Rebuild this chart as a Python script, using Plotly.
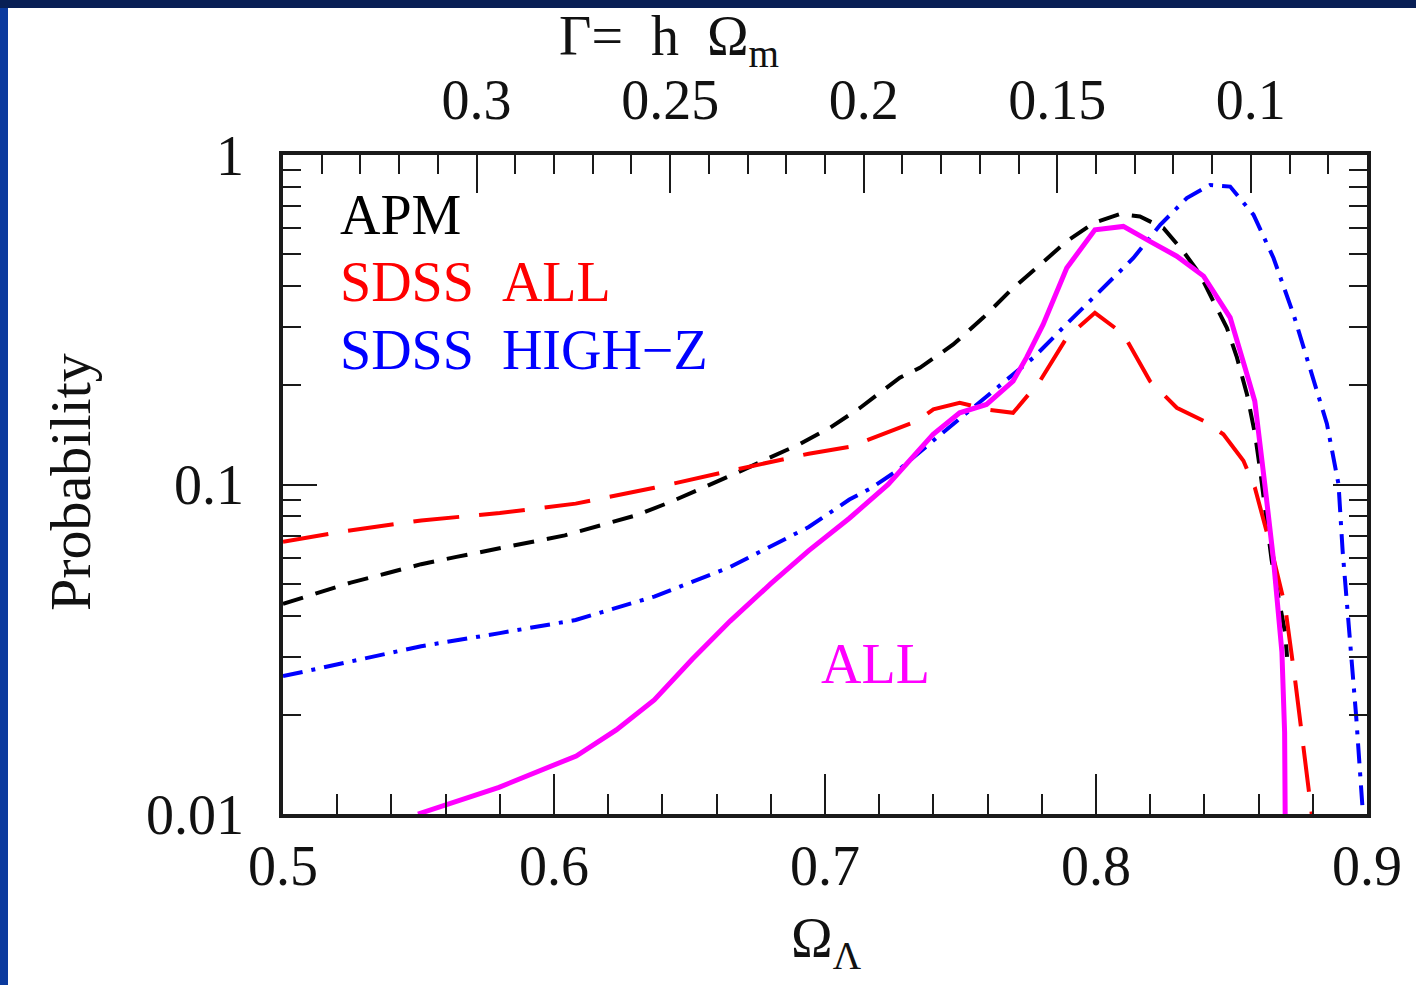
import math
import plotly.graph_objects as go

# ---------------- data ----------------
apm_x = [0.500, 0.513, 0.525, 0.538, 0.551, 0.564, 0.577, 0.5915, 0.604, 0.617, 0.630, 0.643,
         0.655, 0.668, 0.679, 0.691, 0.702, 0.713, 0.7276, 0.735, 0.7473, 0.7584, 0.7682,
         0.7781, 0.7892, 0.799, 0.8089, 0.8162, 0.8249, 0.8322, 0.8384, 0.8433, 0.8483,
         0.852, 0.8557, 0.8587, 0.8606, 0.8648, 0.8698, 0.8705]
apm_p = [0.0434, 0.0468, 0.0504, 0.0537, 0.0573, 0.0603, 0.0632, 0.0670, 0.0701, 0.0751,
         0.0805, 0.0885, 0.0977, 0.109, 0.120, 0.133, 0.149, 0.171, 0.211, 0.226, 0.266,
         0.321, 0.386, 0.454, 0.547, 0.621, 0.662, 0.651, 0.600, 0.510, 0.434, 0.360,
         0.299, 0.243, 0.188, 0.142, 0.110, 0.059, 0.0354, 0.030]

sdss_all_x = [0.500, 0.5228, 0.551, 0.580, 0.608, 0.637, 0.665, 0.694, 0.709, 0.715, 0.7276,
              0.734, 0.740, 0.7497, 0.7596, 0.7694, 0.7793, 0.7892, 0.7996, 0.8101, 0.8199,
              0.8298, 0.8397, 0.847, 0.8544, 0.8586, 0.8648, 0.8698, 0.8736, 0.8767, 0.8796]
sdss_all_p = [0.067, 0.0722, 0.0778, 0.0819, 0.0875, 0.0977, 0.110, 0.124, 0.130, 0.136,
              0.149, 0.156, 0.169, 0.177, 0.169, 0.165, 0.206, 0.279, 0.332, 0.286, 0.206,
              0.171, 0.156, 0.142, 0.118, 0.098, 0.0632, 0.0426, 0.025, 0.0157, 0.010]

sdss_hz_x = [0.500, 0.5228, 0.551, 0.580, 0.608, 0.637, 0.665, 0.694, 0.709, 0.717, 0.7276,
             0.740, 0.752, 0.7645, 0.777, 0.789, 0.8015, 0.8138, 0.8237, 0.8335, 0.8421,
             0.8495, 0.8581, 0.8655, 0.8729, 0.879, 0.8852, 0.8895, 0.891, 0.8935, 0.896,
             0.8985]
sdss_hz_p = [0.0262, 0.0287, 0.0323, 0.0354, 0.0388, 0.0457, 0.0562, 0.0743, 0.0900, 0.0975,
             0.1115, 0.136, 0.164, 0.201, 0.243, 0.306, 0.386, 0.487, 0.614, 0.740, 0.811,
             0.802, 0.659, 0.487, 0.328, 0.226, 0.153, 0.100, 0.063, 0.0354, 0.0198, 0.010]

all_x = [0.5498, 0.5797, 0.6082, 0.6230, 0.637, 0.651, 0.665, 0.680, 0.694, 0.709, 0.7233,
         0.7399, 0.7497, 0.7596, 0.7694, 0.7744, 0.7805, 0.7892, 0.7996, 0.8101, 0.8199,
         0.8298, 0.8397, 0.8495, 0.8557, 0.8586, 0.8623, 0.8655, 0.8686, 0.8696, 0.8698]
all_p = [0.010, 0.01205, 0.0150, 0.0180, 0.0222, 0.0295, 0.0385, 0.0500, 0.0630, 0.0790,
         0.100, 0.142, 0.165, 0.175, 0.206, 0.243, 0.306, 0.454, 0.593, 0.607, 0.547,
         0.493, 0.429, 0.321, 0.216, 0.179, 0.100, 0.059, 0.031, 0.0177, 0.010]

x_ticks = [0.5, 0.6, 0.7, 0.8, 0.9]
x_ticktext = ["0.5", "0.6", "0.7", "0.8", "0.9"]
y_ticks = [0.01, 0.1, 1]
y_ticktext = ["0.01", "0.1", "1"]
gamma_ticks = [0.3, 0.25, 0.2, 0.15, 0.1]
gamma_ticktext = ["0.3", "0.25", "0.2", "0.15", "0.1"]
h_value = 0.7          # Gamma = h * (1 - Omega_Lambda)
ref_level = 0.1

X_RANGE = [0.5, 0.9]

# ---------------- figure ----------------
FONT = "Liberation Serif, Times New Roman, serif"
W, H = 1416, 985
L, R, T, B = 283, 49, 155, 171
PW, PH = W - L - R, H - T - B


def px_x(p):
    return (p - L) / PW


def px_y(p):
    return (H - B - p) / PH


fig = go.Figure()

fig.add_trace(go.Scatter(x=apm_x, y=apm_p, mode="lines",
                         line=dict(color="black", width=4, dash="21px,13px"),
                         showlegend=False, hoverinfo="skip"))
fig.add_trace(go.Scatter(x=sdss_all_x, y=sdss_all_p, mode="lines",
                         line=dict(color="#ff0000", width=4, dash="46px,20px"),
                         showlegend=False, hoverinfo="skip"))
fig.add_trace(go.Scatter(x=sdss_hz_x, y=sdss_hz_p, mode="lines",
                         line=dict(color="#0000ff", width=4, dash="20px,9px,4px,9px"),
                         showlegend=False, hoverinfo="skip"))
fig.add_trace(go.Scatter(x=all_x, y=all_p, mode="lines",
                         line=dict(color="#ff00ff", width=5),
                         showlegend=False, hoverinfo="skip"))
# helper (empty) trace so the top Gamma axis is drawn
fig.add_trace(go.Scatter(x=gamma_ticks, y=[None] * len(gamma_ticks), xaxis="x2",
                         mode="lines", showlegend=False, hoverinfo="skip"))

AX = "#1a1a1a"
fig.update_layout(
    width=W, height=H,
    margin=dict(l=L, r=R, t=T, b=B),
    paper_bgcolor="#0b3a9e",
    plot_bgcolor="white",
    font=dict(family=FONT, size=56, color="#111"),
    xaxis=dict(range=X_RANGE, tickvals=x_ticks, ticktext=x_ticktext,
               ticks="inside", ticklen=40, tickwidth=1.6, tickcolor=AX,
               minor=dict(ticks="inside", ticklen=20, tickwidth=1.6, tickcolor=AX,
                          dtick=0.02, tick0=0.5, showgrid=False),
               showline=True, linewidth=3.5, linecolor=AX, mirror=False,
               showgrid=False, zeroline=False, ticklabelstandoff=0,
               tickfont=dict(size=56, family=FONT)),
    xaxis2=dict(overlaying="x", side="top", anchor="y",
                range=[h_value * (1 - X_RANGE[0]), h_value * (1 - X_RANGE[1])],
                tickvals=gamma_ticks, ticktext=gamma_ticktext,
                ticks="inside", ticklen=38, tickwidth=1.6, tickcolor=AX,
                minor=dict(ticks="inside", ticklen=19, tickwidth=1.6, tickcolor=AX,
                           dtick=0.01, tick0=0, showgrid=False),
                showline=True, linewidth=3.5, linecolor=AX,
                showgrid=False, zeroline=False, ticklabelstandoff=10,
                tickfont=dict(size=56, family=FONT)),
    yaxis=dict(type="log", range=[-2, 0], tickvals=y_ticks, ticktext=y_ticktext,
               ticks="inside", ticklen=34, tickwidth=1.6, tickcolor=AX,
               minor=dict(ticks="inside", ticklen=18, tickwidth=1.6, tickcolor=AX,
                          dtick="D1", showgrid=False),
               showline=True, linewidth=3.5, linecolor=AX, mirror="ticks",
               showgrid=False, zeroline=False, ticklabelstandoff=24,
               tickfont=dict(size=56, family=FONT)),
)

# background panel (white card on blue slide)
fig.add_shape(type="rect", xref="paper", yref="paper",
              x0=px_x(8), x1=px_x(W + 5), y0=px_y(H + 5), y1=px_y(8),
              fillcolor="white", line=dict(width=0), layer="below")
fig.add_shape(type="rect", xref="paper", yref="paper",
              x0=px_x(-5), x1=px_x(W + 5), y0=px_y(8), y1=px_y(-5),
              fillcolor="#081f55", line=dict(width=0), layer="below")

# dotted reference line at P = 0.1
fig.add_shape(type="line", xref="paper", x0=0, x1=1, yref="y",
              y0=math.log10(ref_level), y1=math.log10(ref_level),
              line=dict(color="black", width=1.5, dash="dot"))

# labels inside plot
NB = "\u00a0"
labels = [("APM", "black", 0.5203, 0.657),
          ("SDSS" + NB * 2 + "ALL", "#ff0000", 0.5203, 0.413),
          ("SDSS" + NB * 2 + "HIGH\u2212Z", "#0000ff", 0.5203, 0.256)]
for txt, col, xv, yv in labels:
    fig.add_annotation(x=xv, y=math.log10(yv), xref="x", yref="y", text=txt,
                       showarrow=False, xanchor="left", yanchor="middle",
                       font=dict(family=FONT, size=56, color=col))
fig.add_annotation(x=0.7185, y=math.log10(0.0285), xref="x", yref="y", text="ALL",
                   showarrow=False, xanchor="center", yanchor="middle",
                   font=dict(family=FONT, size=56, color="#ff00ff"))

# axis titles
fig.add_annotation(x=px_x(557), y=px_y(40), xref="paper", yref="paper",
                   text="\u0393=" + NB * 2 + "h" + NB * 2 + "\u03a9<sub>m</sub>",
                   showarrow=False, xanchor="left", yanchor="middle",
                   font=dict(family=FONT, size=56, color="#111"))
fig.add_annotation(x=px_x(826), y=px_y(942), xref="paper", yref="paper",
                   text="\u03a9<sub>\u039b</sub>",
                   showarrow=False, xanchor="center", yanchor="middle",
                   font=dict(family=FONT, size=56, color="#111"))
fig.add_annotation(x=px_x(70), y=px_y(482), xref="paper", yref="paper",
                   text="Probability", textangle=-90,
                   showarrow=False, xanchor="center", yanchor="middle",
                   font=dict(family=FONT, size=58, color="#111"))

fig.write_html("out.html")
